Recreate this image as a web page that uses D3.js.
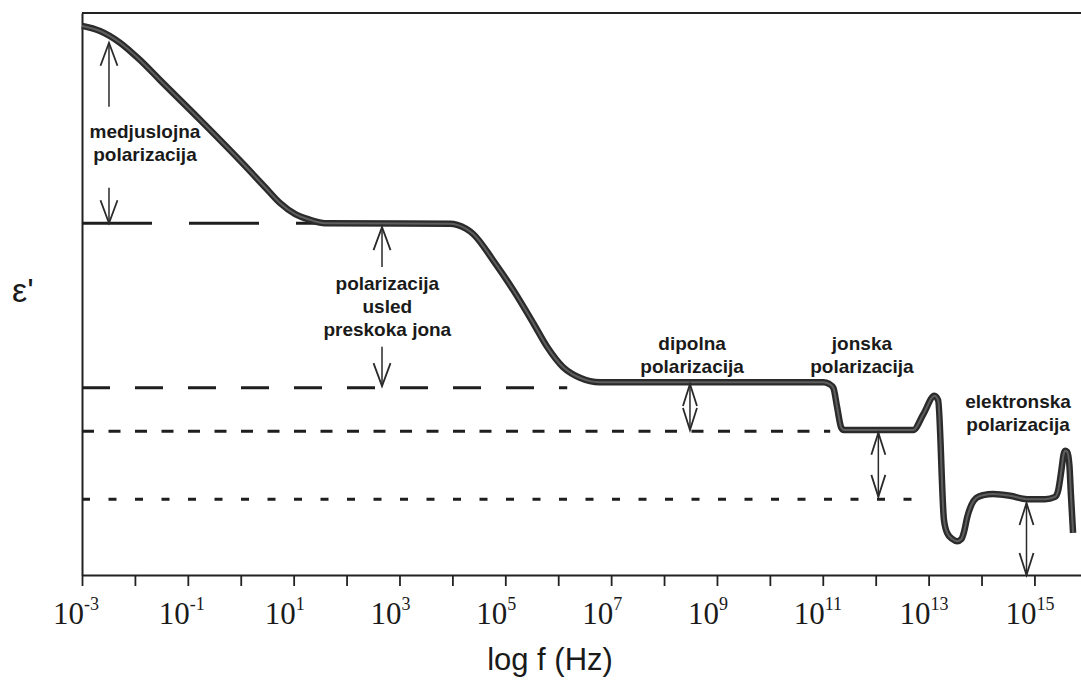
<!DOCTYPE html>
<html>
<head>
<meta charset="utf-8">
<script src="https://cdn.jsdelivr.net/npm/d3@7"></script>
<style>
  body { margin: 0; background: #fff; }
  svg { display: block; }
</style>
</head>
<body>
<div id="chart"></div>
<script>
// eps' response, x is log10 of the frequency (Hz)
const CURVE_LOGF = [-3, -2.66, -2.28, -1.90, -1.53, -0.77, -0.01, 0.46, 0.74, 1.03, 1.31, 1.59,
  3.96, 4.09, 4.26, 4.39, 4.77, 5.15, 5.53, 5.79, 6.09, 6.26, 6.41, 6.60, 6.79,
  11.01, 11.12, 11.20, 11.27, 11.35, 11.40,
  12.71, 12.90, 13.11, 13.18, 13.29, 13.35, 13.45, 13.54, 13.62, 13.67, 13.73, 13.81, 13.90, 14.03,
  14.22, 14.54, 14.86, 15.20, 15.39, 15.45, 15.51, 15.55, 15.58, 15.62, 15.66, 15.69, 15.73]
const CURVE_EPS = [97.7, 96.8, 94.7, 91.6, 88.1, 81.0, 73.7, 69.0, 66.2, 64.2, 63.2, 62.6,
  62.5, 62.3, 61.6, 60.7, 56.0, 50.7, 44.8, 40.6, 37.0, 35.8, 35.1, 34.5, 34.3,
  34.3, 34.0, 33.3, 29.9, 26.2, 25.8,
  25.8, 28.6, 31.9, 31.1, 9.8, 7.5, 6.4, 6.0, 6.4, 7.7, 10.3, 12.5, 13.7, 14.2,
  14.4, 14.1, 13.5, 13.5, 13.9, 15.1, 18.7, 21.4, 22.1, 21.9, 19.6, 14.2, 7.5]

// reference levels (dashed lines)
const LEVEL_EPS = [62.6, 33.3, 25.6, 13.5]
const LEVEL_END = [1.45, 6.17, 11.14, 12.75]

const TICK_EXP = d3.range(-3, 16)
const LABEL_EXP = [-3, -1, 1, 3, 5, 7, 9, 11, 13, 15]

// annotation arrows: shaft from -> to (tip), both = head on both ends
const ARROW_LOGF = [-2.49, -2.49, 2.67, 2.67, 8.49, 12.05, 14.85]
const ARROW_FROM = [83.3, 68.9, 54.8, 40.6, 25.8, 13.9, 0]
const ARROW_TO   = [94.7, 62.6, 61.9, 33.6, 34.0, 25.3, 12.8]
const ARROW_BOTH = [false, false, false, false, true, true, true]

const LABEL_TEXT = [
  ['medjuslojna', 'polarizacija'],
  ['polarizacija', 'usled', 'preskoka jona'],
  ['dipolna', 'polarizacija'],
  ['jonska', 'polarizacija'],
  ['elektronska', 'polarizacija'],
]
const LABEL_LOGF = [-1.81, 2.77, 8.53, 11.74, 14.69]
const LABEL_EPS  = [77.8, 50.7, 40.0, 40.0, 29.7]

const DASHES = ['70,37', '28,25', '12,14.5', '8,18.5']

const width = 1081, height = 680

const svg = d3.select('#chart').append('svg')
  .attr('width', width)
  .attr('height', height)

const x = d3.scaleLinear().domain([-3, 15.88]).range([82, 1081])
const y = d3.scaleLinear().domain([0, 100]).range([575, 13])

// frame
svg.append('line')
  .attr('x1', x(-3)).attr('x2', width)
  .attr('y1', y(100)).attr('y2', y(100))
  .attr('stroke', '#222').attr('stroke-width', 2)

const yAxis = svg.append('g')
  .attr('transform', 'translate(' + x(-3) + ',0)')
  .call(d3.axisLeft(y).tickValues([]).tickSizeOuter(0))
yAxis.select('.domain').attr('stroke', '#222').attr('stroke-width', 2)

const xAxis = svg.append('g')
  .attr('transform', 'translate(0,' + y(0) + ')')
  .call(d3.axisBottom(x).tickValues(TICK_EXP).tickSize(11).tickSizeOuter(0).tickFormat(''))
xAxis.select('.domain').attr('stroke', '#222').attr('stroke-width', 2)
xAxis.selectAll('.tick line').attr('stroke', '#222').attr('stroke-width', 1.8)

// tick labels 10^n
const tickLabels = svg.append('g')
  .selectAll('text').data(LABEL_EXP)
  .enter().append('text')
    .attr('x', d => x(d) - 29)
    .attr('y', 624)
    .attr('font-family', '"Liberation Serif", "Times New Roman", serif')
    .attr('font-size', 31)
    .attr('fill', '#1a1a1a')
tickLabels.append('tspan').text('10')
tickLabels.append('tspan')
  .attr('font-size', 18)
  .attr('dy', -14)
  .text(d => d < 0 ? '-' + Math.abs(d) : d)

svg.append('text')
  .text('log f (Hz)')
  .attr('x', 550).attr('y', 670)
  .attr('text-anchor', 'middle')
  .attr('font-family', '"Liberation Sans", Arial, sans-serif')
  .attr('font-size', 31)
  .attr('fill', '#1a1a1a')

svg.append('text')
  .text('\u03b5\'')
  .attr('x', 12).attr('y', 302)
  .attr('font-family', '"Liberation Sans", Arial, sans-serif')
  .attr('font-size', 34)
  .attr('fill', '#1a1a1a')

// dashed reference levels
svg.append('g')
  .selectAll('line').data(LEVEL_EPS)
  .enter().append('line')
    .attr('x1', x(-3))
    .attr('x2', (d, i) => x(LEVEL_END[i]))
    .attr('y1', d => y(d))
    .attr('y2', d => y(d))
    .attr('stroke', '#1e1e1e')
    .attr('stroke-width', 3)
    .attr('stroke-dasharray', (d, i) => DASHES[i])

// main curve
const curve = d3.line()
  .x(d => x(d[0]))
  .y(d => y(d[1]))
  .curve(d3.curveMonotoneX)
const curveData = CURVE_LOGF.map((f, i) => [f, CURVE_EPS[i]])

svg.append('path')
  .attr('d', curve(curveData))
  .attr('fill', 'none')
  .attr('stroke', '#2b2b2b')
  .attr('stroke-width', 6.5)
  .attr('stroke-linejoin', 'round')
svg.append('path')
  .attr('d', curve(curveData))
  .attr('fill', 'none')
  .attr('stroke', '#5e5e5e')
  .attr('stroke-width', 2)
  .attr('stroke-linejoin', 'round')

// arrows
function headPath(px, tipY, dir, len, w){
  return 'M' + (px - w) + ',' + (tipY - dir * len) + 'L' + px + ',' + tipY + 'L' + (px + w) + ',' + (tipY - dir * len)
}

const arrows = svg.append('g')
  .attr('stroke', '#2a2a2a')
  .attr('fill', 'none')
ARROW_LOGF.forEach((f, i) => {
  const px = x(f)
  const y1 = y(ARROW_FROM[i]), y2 = y(ARROW_TO[i])
  const dir = y2 > y1 ? 1 : -1
  const len = ARROW_BOTH[i] ? 22 : 23
  const w = ARROW_BOTH[i] ? 7 : 8.5
  arrows.append('line')
    .attr('x1', px).attr('x2', px)
    .attr('y1', y1).attr('y2', y2)
    .attr('stroke-width', 1.5)
  arrows.append('path')
    .attr('d', headPath(px, y2, dir, len, w))
    .attr('stroke-width', 1.8)
  if(ARROW_BOTH[i]){
    arrows.append('path')
      .attr('d', headPath(px, y1, -dir, len, w))
      .attr('stroke-width', 1.8)
  }
})

// text labels
const labels = svg.append('g')
  .selectAll('text').data(LABEL_TEXT)
  .enter().append('text')
    .attr('x', (d, i) => x(LABEL_LOGF[i]))
    .attr('y', (d, i) => y(LABEL_EPS[i]))
    .attr('text-anchor', 'middle')
    .attr('font-family', '"Liberation Sans", Arial, sans-serif')
    .attr('font-weight', 'bold')
    .attr('font-size', 19)
    .attr('fill', '#1a1a1a')
labels.selectAll('tspan').data(d => d)
  .enter().append('tspan')
    .attr('x', function(){ return this.parentNode.getAttribute('x') })
    .attr('dy', (d, i) => i == 0 ? 0 : 23)
    .text(d => d)
</script>
</body>
</html>
